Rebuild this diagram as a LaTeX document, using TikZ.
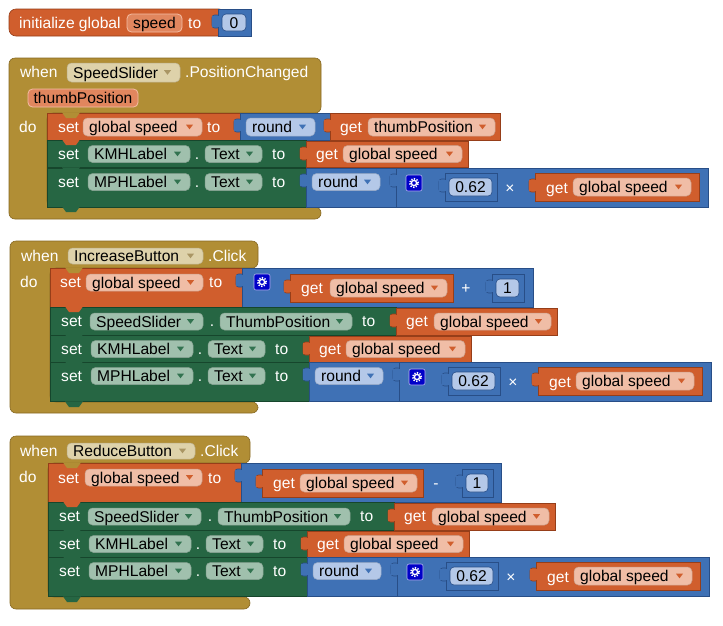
\documentclass[tikz,border=0pt]{standalone}
\usepackage{fontspec}
\setmainfont{Liberation Sans}
\definecolor{vor}{RGB}{208,94,45}
\definecolor{vorD}{RGB}{150,62,25}
\definecolor{vfl}{RGB}{240,189,166}
\definecolor{vpm}{RGB}{225,134,94}
\definecolor{vpmB}{RGB}{244,190,165}
\definecolor{mbl}{RGB}{63,113,181}
\definecolor{mblD}{RGB}{40,78,135}
\definecolor{mfl}{RGB}{180,200,232}
\definecolor{cgr}{RGB}{38,102,67}
\definecolor{cgrD}{RGB}{22,70,44}
\definecolor{cfl}{RGB}{160,192,173}
\definecolor{cgrT}{RGB}{50,115,80}
\definecolor{olv}{RGB}{177,142,53}
\definecolor{olvD}{RGB}{135,105,35}
\definecolor{ofl}{RGB}{222,210,170}
\definecolor{olvT}{RGB}{170,150,100}
\definecolor{gearc}{RGB}{0,0,200}
\newcommand{\blkfont}{\fontsize{15.6}{18}\selectfont}
\tikzset{
 wt/.style={text=white,font=\blkfont,inner sep=0pt},
 bt/.style={text=black,font=\blkfont,inner sep=0pt},
}
\newcommand{\wl}[3]{\node[wt,anchor=base west] at ({#1},{#2+5.6}) {#3};}
\newcommand{\wc}[3]{\node[wt,anchor=base] at ({#1},{#2+5.6}) {#3};}
\newcommand{\stm}[5]{\filldraw[fill=#5,draw=#5D,line width=0.6] ({#1},{#2}) rectangle ({#3},{#4});}
\newcommand{\val}[5]{%
 \filldraw[fill=#5,draw=#5D,line width=0.6,rounded corners=2.5] ({#1-6},{#2+6}) rectangle ({#1+2},{#2+19});
 \filldraw[fill=#5,draw=#5D,line width=0.6] ({#1},{#2}) rectangle ({#3},{#4});
 \fill[#5] ({#1-5.6},{#2+6.6}) rectangle ({#1+1},{#2+18.4});}
\newcommand{\dd}[7]{%
 \filldraw[fill=#5,draw=#5!85!black,line width=0.5,rounded corners=4.5] ({#1},{#2}) rectangle ({#3},{#4});
 \node[bt,anchor=base west] at ({#1+6},{(#2+#4)/2+5.6}) {#6};
 \fill[#7] ({#3-16},{(#2+#4)/2-2.3}) -- ({#3-9},{(#2+#4)/2-2.3}) -- ({#3-12.5},{(#2+#4)/2+2.3}) -- cycle;}
\newcommand{\pf}[6]{%
 \filldraw[fill=#5,draw=vpmB,line width=0.8,rounded corners=4.5] ({#1},{#2}) rectangle ({#3},{#4});
 \node[bt,anchor=base] at ({(#1+#3)/2},{(#2+#4)/2+5.6}) {#6};}
\newcommand{\num}[5]{%
 \val{#1}{#2}{#3}{#4}{mbl}
 \filldraw[fill=mfl,draw=mblD,line width=0.6,rounded corners=4] ({#1+4},{#2+5}) rectangle ({#3-5},{#4-5});
 \node[bt,anchor=base] at ({(#1+#3)/2-0.5},{(#2+#4)/2+5.6}) {#5};}
\newcommand{\gear}[2]{%
 \filldraw[fill=gearc,draw=white!70!gearc,line width=0.6,rounded corners=2] ({#1-8},{#2-8}) rectangle ({#1+8},{#2+8});
 \draw[white,line width=1.3] ({#1},{#2}) circle (2.6pt);
 \draw[white,line width=1.6,dash pattern=on 1.3pt off 1.4pt] ({#1},{#2}) circle (4.3pt);}
\newcommand{\bump}[3]{\fill[#3] ({#1+15},{#2-0.6}) -- ({#1+19},{#2+5}) -- ({#1+29},{#2+5}) -- ({#1+33},{#2-0.6}) -- cycle;}
\newcommand{\labelpart}[3]{%
 \wl{#1+11}{#2+14}{set}
 \dd{#1+41}{#2+5.5}{#1+143}{#2+22.5}{cfl}{#3}{cgrT}
 \wc{#1+150}{#2+14}{.}
 \dd{#1+158}{#2+5.5}{#1+215}{#2+22.5}{cfl}{Text}{cgrT}
 \wl{#1+225}{#2+14}{to}}
\newcommand{\kmhrow}[2]{%
 \stm{#1}{#2}{#1+259}{#2+27}{cgr}
 \labelpart{#1}{#2}{KMHLabel}
 \val{#1+259}{#2+1}{#1+421}{#2+27}{vor}
 \wl{#1+269}{#2+14}{get}
 \dd{#1+296}{#2+5.5}{#1+415}{#2+22.5}{vfl}{global speed}{vor}}
\newcommand{\mphrow}[2]{%
 \stm{#1}{#2}{#1+259}{#2+39}{cgr}
 \labelpart{#1}{#2}{MPHLabel}
 \val{#1+259}{#2}{#1+349}{#2+39}{mbl}
 \dd{#1+265}{#2+5.5}{#1+333}{#2+22.5}{mfl}{round}{mbl}
 \val{#1+349}{#2}{#1+661}{#2+39}{mbl}
 \gear{#1+367}{#2+15}
 \num{#1+398}{#2+5}{#1+450}{#2+33}{0.62}
 \wc{#1+463}{#2+19.5}{×}
 \val{#1+488}{#2+5}{#1+652}{#2+33}{vor}
 \wl{#1+499}{#2+19.5}{get}
 \dd{#1+526}{#2+10}{#1+644}{#2+28}{vfl}{global speed}{vor}}
\newcommand{\sliderrow}[2]{%
 \stm{#1}{#2}{#1+346}{#2+28}{cgr}
 \wl{#1+11}{#2+14}{set}
 \dd{#1+40}{#2+6}{#1+153}{#2+23}{cfl}{SpeedSlider}{cgrT}
 \wc{#1+162}{#2+14}{.}
 \dd{#1+170}{#2+6}{#1+302}{#2+23}{cfl}{ThumbPosition}{cgrT}
 \wl{#1+312}{#2+14}{to}
 \val{#1+346}{#2+1}{#1+507}{#2+28}{vor}
 \wl{#1+356}{#2+14}{get}
 \dd{#1+384}{#2+6}{#1+501}{#2+23}{vfl}{global speed}{vor}}
\begin{document}
\begin{tikzpicture}[x=1pt,y=-1pt]
\fill[white] (0,0) rectangle (723,625);
\useasboundingbox (0,0) rectangle (723,625);
% ---------- initialize global ----------
\filldraw[fill=vor,draw=vorD,line width=0.6,rounded corners=7] (9,9) rectangle (226,36);
\wl{19}{22.5}{initialize global}
\pf{127}{14}{182}{32}{vpm}{speed}
\wl{188}{22.5}{to}
\num{218}{9}{251}{36}{0}
% ---------- event 1 ----------
\filldraw[fill=olv,draw=olvD,line width=0.6,rounded corners=6] (9,58) -- (321,58) -- (321,113) -- (47,113) -- (47,207) -- (321,207) -- (321,219) -- (9,219) -- cycle;
\wl{20}{72}{when}
\dd{67}{63}{180}{82}{ofl}{SpeedSlider}{olvT}
\wl{185}{72}{.PositionChanged}
\pf{28}{89}{138}{107}{vpm}{thumbPosition}
\wl{19}{126.5}{do}
\stm{47}{113}{240}{140}{vor}
\wl{58}{126.5}{set}
\dd{83}{118}{202}{136}{vfl}{global speed}{vor}
\wl{207}{126.5}{to}
\val{240}{113}{330}{140}{mbl}
\dd{246}{118}{315}{136}{mfl}{round}{mbl}
\val{330}{113}{500}{140}{vor}
\wl{340}{126.5}{get}
\dd{368}{118}{495}{136}{vfl}{thumbPosition}{vor}
\kmhrow{47}{140}
\mphrow{47}{168}
% ---------- event 2 ----------
\filldraw[fill=olv,draw=olvD,line width=0.6,rounded corners=6] (10,241) -- (258,241) -- (258,268) -- (50,268) -- (50,402) -- (258,402) -- (258,413) -- (10,413) -- cycle;
\wl{21}{255.5}{when}
\dd{68}{248}{203}{264}{ofl}{IncreaseButton}{olvT}
\wl{208}{255.5}{.Click}
\wl{20}{281.5}{do}
\stm{50}{268}{242}{307}{vor}
\wl{60}{282}{set}
\dd{86}{274}{203}{291}{vfl}{global speed}{vor}
\wl{209}{282}{to}
\val{242}{268}{533}{307}{mbl}
\gear{262}{282}
\val{290}{274}{453}{302}{vor}
\wl{301}{288}{get}
\dd{330}{279}{447}{297}{vfl}{global speed}{vor}
\wc{466}{288}{+}
\num{492}{274}{524}{302}{1}
\sliderrow{50}{307}
\kmhrow{50}{335}
\mphrow{50}{362}
% ---------- event 3 ----------
\filldraw[fill=olv,draw=olvD,line width=0.6,rounded corners=6] (10,436) -- (250,436) -- (250,463) -- (48,463) -- (48,597) -- (250,597) -- (250,609) -- (10,609) -- cycle;
\wl{20}{450.5}{when}
\dd{67}{443}{195}{459}{ofl}{ReduceButton}{olvT}
\wl{200}{450.5}{.Click}
\wl{19}{477}{do}
\stm{48}{463}{241}{502}{vor}
\wl{58}{477.5}{set}
\dd{85}{469}{202}{486}{vfl}{global speed}{vor}
\wl{208}{477.5}{to}
\val{241}{463}{501}{502}{mbl}
\val{262}{469}{423}{497}{vor}
\wl{273}{483}{get}
\dd{300}{474}{417}{492}{vfl}{global speed}{vor}
\wc{436}{483}{-}
\num{462}{469}{493}{497}{1}
\sliderrow{48}{502}
\kmhrow{48}{530}
\mphrow{48}{557}
% ---------- notches ----------
\bump{47}{113}{olv}\bump{47}{140}{vor}\bump{47}{168}{cgr}\bump{47}{207}{cgr}
\bump{50}{268}{olv}\bump{50}{307}{vor}\bump{50}{335}{cgr}\bump{50}{362}{cgr}\bump{50}{402}{cgr}
\bump{48}{463}{olv}\bump{48}{502}{vor}\bump{48}{530}{cgr}\bump{48}{557}{cgr}\bump{48}{597}{cgr}
\end{tikzpicture}
\end{document}
